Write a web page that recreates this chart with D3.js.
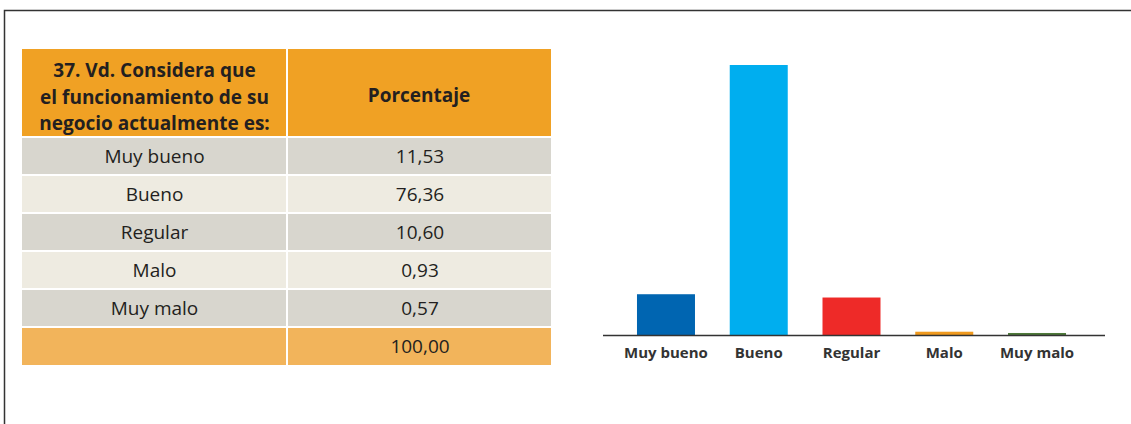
<!DOCTYPE html>
<html>
<head>
<meta charset="utf-8">
<script src="https://cdn.jsdelivr.net/npm/d3@7"></script>
<style>
  html, body { margin: 0; padding: 0; background: #fff; }
  svg { display: block; }
  text { font-family: "Open Sans", "Noto Sans", sans-serif; }
</style>
</head>
<body>
<svg id="chart" width="1131" height="424"></svg>
<script>
// Survey question 37: current state of the business
const questionLines = ["37. Vd. Considera que", "el funcionamiento de su", "negocio actualmente es:"];
const valueHeader = "Porcentaje";
const categories = ["Muy bueno", "Bueno", "Regular", "Malo", "Muy malo"];
const percentages = [11.53, 76.36, 10.60, 0.93, 0.57];
const totalValue = 100.00;
const barColors = ["#0065b1", "#00aeef", "#ee2a28", "#f09a1e", "#4e7a3a"];

const fmt = v => d3.format(".2f")(v).replace(".", ",");

const svg = d3.select("#chart");

// outer frame (top and left edges)
svg.append("path")
  .attr("d", "M4.5,424 V10.5 H1131")
  .attr("fill", "none")
  .attr("stroke", "#333")
  .attr("stroke-width", 1.5);

// ---------- table ----------
const tbl = { x0: 22, x1: 287, x2: 551, headTop: 49, headBottom: 137, bottom: 365 };
const rowKeys = categories.concat(["__total"]);
const rowY = d3.scaleBand().domain(rowKeys).range([tbl.headBottom, tbl.bottom]);

const table = svg.append("g");

// header cells
table.append("rect").attr("x", tbl.x0).attr("y", tbl.headTop)
  .attr("width", tbl.x1 - tbl.x0).attr("height", tbl.headBottom - tbl.headTop).attr("fill", "#f0a124");
table.append("rect").attr("x", tbl.x1).attr("y", tbl.headTop)
  .attr("width", tbl.x2 - tbl.x1).attr("height", tbl.headBottom - tbl.headTop).attr("fill", "#f0a124");

const rowFill = (k, i) => k === "__total" ? "#f2b45b" : (i % 2 === 0 ? "#d8d6ce" : "#eeebe1");

const rows = table.selectAll("g.row").data(rowKeys).join("g").attr("class", "row");
rows.append("rect").attr("x", tbl.x0).attr("y", d => rowY(d))
  .attr("width", tbl.x1 - tbl.x0).attr("height", rowY.bandwidth()).attr("fill", rowFill);
rows.append("rect").attr("x", tbl.x1).attr("y", d => rowY(d))
  .attr("width", tbl.x2 - tbl.x1).attr("height", rowY.bandwidth()).attr("fill", rowFill);

// white cell separators
const gridLines = [];
rowKeys.forEach(k => gridLines.push([tbl.x0, rowY(k), tbl.x2, rowY(k)]));
gridLines.push([tbl.x1, tbl.headTop, tbl.x1, tbl.bottom]);
table.selectAll("line.grid").data(gridLines).join("line").attr("class", "grid")
  .attr("x1", d => d[0]).attr("y1", d => d[1]).attr("x2", d => d[2]).attr("y2", d => d[3])
  .attr("stroke", "#fff").attr("stroke-width", 2);

const c1 = (tbl.x0 + tbl.x1) / 2, c2 = (tbl.x1 + tbl.x2) / 2;

// header text
table.append("text").attr("x", c1).attr("y", 77)
  .attr("text-anchor", "middle").attr("font-size", 19).attr("font-weight", "bold").attr("fill", "#231f20")
  .selectAll("tspan").data(questionLines).join("tspan")
  .attr("x", c1).attr("dy", (d, i) => i === 0 ? 0 : 26.5).text(d => d);
table.append("text").attr("x", c2).attr("y", 102)
  .attr("text-anchor", "middle").attr("font-size", 19).attr("font-weight", "bold").attr("fill", "#231f20")
  .text(valueHeader);

// body text
const bodyVals = percentages.concat([totalValue]);
rows.append("text").attr("x", c1).attr("y", d => rowY(d) + rowY.bandwidth() / 2 + 6.5)
  .attr("text-anchor", "middle").attr("font-size", 19).attr("fill", "#231f20")
  .text(d => d === "__total" ? "" : d);
rows.append("text").attr("x", c2 + 1).attr("y", d => rowY(d) + rowY.bandwidth() / 2 + 6.5)
  .attr("text-anchor", "middle").attr("font-size", 19).attr("fill", "#231f20")
  .text((d, i) => fmt(bodyVals[i]));

// ---------- bar chart ----------
const plot = { left: 603, right: 1105, top: 65, base: 335 };
const pad = 0.3747;
const xb = d3.scaleBand().domain(categories).range([619.6, 1083.4])
  .paddingInner(pad).paddingOuter(pad / 2);
const y = d3.scaleLinear().domain([0, d3.max(percentages)]).range([plot.base, plot.top]);

const bars = svg.append("g");
bars.selectAll("rect").data(categories).join("rect")
  .attr("x", d => xb(d))
  .attr("width", xb.bandwidth())
  .attr("y", (d, i) => y(percentages[i]))
  .attr("height", (d, i) => plot.base - y(percentages[i]))
  .attr("fill", (d, i) => barColors[i]);

// baseline
svg.append("line")
  .attr("x1", plot.left).attr("x2", plot.right)
  .attr("y1", plot.base + 0.5).attr("y2", plot.base + 0.5)
  .attr("stroke", "#333").attr("stroke-width", 1.5);

// category labels
const xAxis = d3.axisBottom(xb).tickSize(0).tickPadding(12);
const axisG = svg.append("g").attr("transform", `translate(0,${plot.base})`).call(xAxis);
axisG.select(".domain").remove();
axisG.selectAll("text")
  .attr("font-size", 15).attr("font-weight", "bold").attr("fill", "#333")
  .style("font-family", "'Open Sans', 'Noto Sans', sans-serif");
</script>
</body>
</html>
